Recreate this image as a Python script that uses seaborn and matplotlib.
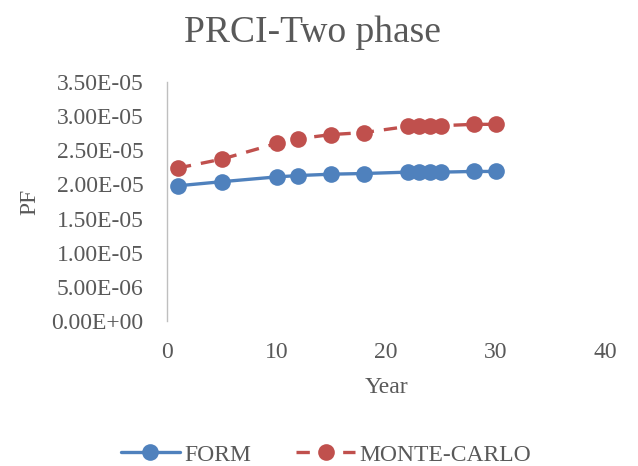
import matplotlib
matplotlib.use('Agg')
import matplotlib.pyplot as plt
import seaborn as sns
from matplotlib.ticker import FuncFormatter

# Data
years = [1, 5, 10, 12, 15, 18, 22, 23, 24, 25, 28, 30]
form_pf = [1.98e-5, 2.04e-5, 2.11e-5, 2.13e-5, 2.15e-5, 2.16e-5,
           2.18e-5, 2.18e-5, 2.18e-5, 2.18e-5, 2.19e-5, 2.19e-5]
mc_pf = [2.24e-5, 2.37e-5, 2.60e-5, 2.67e-5, 2.73e-5, 2.76e-5,
         2.85e-5, 2.86e-5, 2.86e-5, 2.86e-5, 2.88e-5, 2.88e-5]

sns.set_style('white')
plt.rcParams['font.family'] = ['Liberation Serif', 'DejaVu Serif']
grey = '#595959'

fig = plt.figure(figsize=(6.38, 4.66), dpi=100)
ax = fig.add_axes([167 / 638, 1 - 321 / 466, (605 - 167) / 638, (321 - 82) / 466])

# FORM line (solid)
sns.lineplot(x=years, y=form_pf, ax=ax, color='#4F81BD', linewidth=2.4,
             marker='o', markersize=12, markeredgewidth=0, label='FORM')
# Monte-Carlo line (dashed)
sns.lineplot(x=years, y=mc_pf, ax=ax, color='#C0504D', linewidth=2.4,
             marker='o', markersize=12, markeredgewidth=0, label='MONTE-CARLO')
ax.lines[1].set_dashes((4, 3))

ax.set_xlim(0, 40)
ax.set_ylim(0, 3.5e-5)
ax.set_xticks([0, 10, 20, 30, 40])
ax.set_yticks([i * 0.5e-5 for i in range(8)])
ax.yaxis.set_major_formatter(FuncFormatter(lambda v, p: '%.2E' % v))
ax.tick_params(axis='both', length=0, labelsize=17, labelcolor=grey)
ax.tick_params(axis='y', pad=17)
ax.tick_params(axis='x', pad=15)

for side in ['top', 'right', 'bottom']:
    ax.spines[side].set_visible(False)
ax.spines['left'].set_color('#BFBFBF')
ax.spines['left'].set_linewidth(1.0)

ax.set_xlabel('Year', fontsize=17, color=grey, labelpad=10)
ax.set_ylabel('PF', fontsize=17, color=grey, labelpad=8)
fig.text(0.49, 1 - 33 / 466, 'PRCI-Two phase', ha='center', va='center',
         fontsize=27, color=grey)

ax.get_legend().remove()
handles, labels = ax.get_legend_handles_labels()
leg = fig.legend(handles, labels, loc='center', bbox_to_anchor=(326 / 638, 1 - 455 / 466),
                 ncol=2, frameon=False, fontsize=17, handlelength=2.5,
                 columnspacing=1.9, handletextpad=0.2)
for t in leg.get_texts():
    t.set_color(grey)

fig.savefig('out.png', dpi=100)
